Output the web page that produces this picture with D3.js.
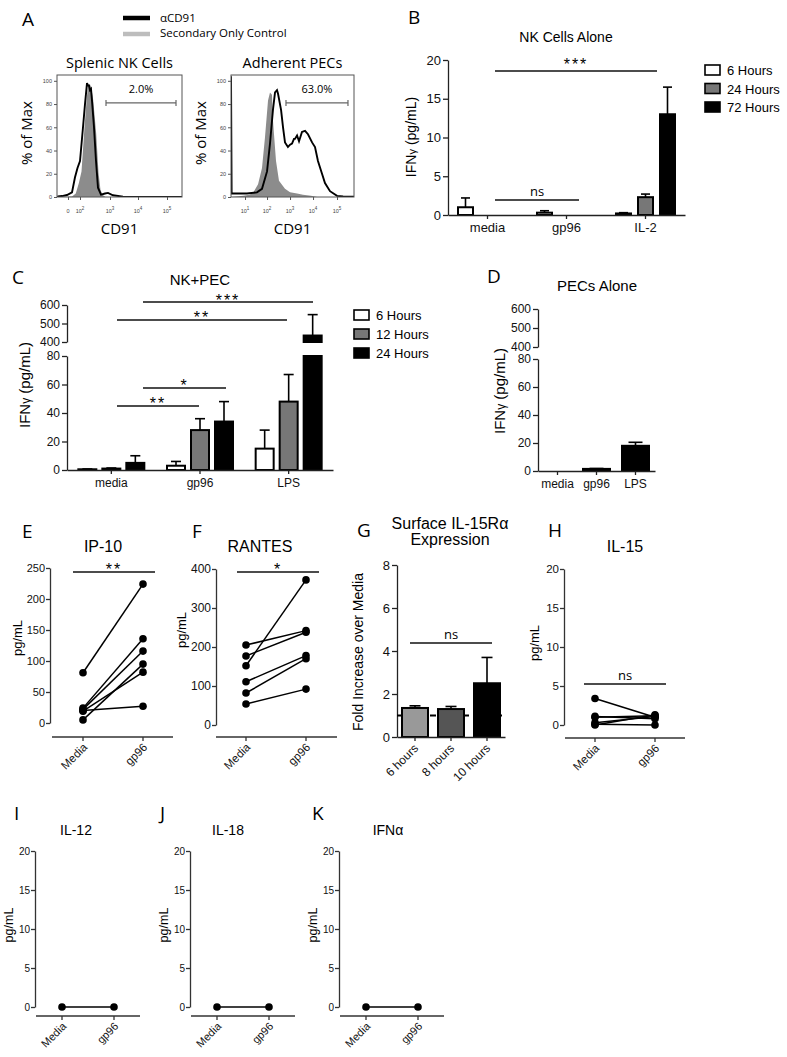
<!DOCTYPE html>
<html>
<head>
<meta charset="utf-8">
<script src="https://cdn.jsdelivr.net/npm/d3@7"></script>
<style>
  body { margin: 0; background: #fff; }
  svg { display: block; }
</style>
</head>
<body>
<div id="fig"></div>
<script>

// ---------- panel A : flow histograms, x in channel units (0-1000), y in % of max
let splenicCtrl = [[0,0],[120,0.5],[150,3],[175,12],[196,22],[220,60],[238,85],[248,95],[264,97],[276,93],[290,83],[314,54],[332,21],[348,6],[364,2],[388,0],[1000,0]];
let splenicCd91 = [[0,0],[8,0.5],[40,0.8],[80,1.7],[120,4],[144,17],[164,25],[184,31],[208,60],[224,80],[232,89],[240,98],[248,96],[256,96],[264,92],[272,93],[280,83],[296,60],[312,31],[328,8],[352,2],[384,3],[408,3.5],[448,1.5],[528,0.3],[1000,0]];
let pecCtrl = [[0,0],[100,1],[150,2],[179,3.5],[220,11],[252,25],[276,51],[301,83],[317,90],[333,88],[341,66],[366,31],[390,14],[439,7],[480,4],[537,3],[585,2],[650,1],[700,0],[1000,0]];
let pecCd91 = [[0,104],[5,3],[16,3],[130,3],[211,4],[252,7],[293,22],[317,46],[341,75],[358,90],[374,92],[382,89],[407,75],[423,60],[439,47],[463,43],[480,45],[496,46],[512,50],[520,50],[537,53],[553,48],[577,56],[602,57],[626,54],[659,47],[683,43],[707,31],[740,20],[764,12],[805,5],[862,1],[911,0.5],[1000,0.3]];
let splenicTicksX = [88, 184, 424, 648, 880];
let splenicTickLabels = [["0",""],["10","2"],["10","3"],["10","4"],["10","5"]];
let pecTicksX = [114, 293, 480, 667, 862];
let pecTickLabels = [["10","1"],["10","2"],["10","3"],["10","4"],["10","5"]];
let splenicGate = [392, 952];
let pecGate = [447, 951];
let gateLevel = 81;

// ---------- panel B : NK cells alone
let nkHours = ["6 Hours", "24 Hours", "72 Hours"];
let nkTreat = ["media", "gp96", "IL-2"];
let nkAloneMean = [[1.0, 0, 0], [0.3, 0, 0], [0.2, 2.3, 13.0]];
let nkAloneErr  = [[2.2, 0, 0], [0.55, 0, 0], [0.3, 2.7, 16.5]];

// ---------- panel C : NK + PEC
let pecHours = ["6 Hours", "12 Hours", "24 Hours"];
let pecTreat = ["media", "gp96", "LPS"];
let nkPecMean = [[0.5, 1, 5], [3, 28, 34], [15, 48, 435]];
let nkPecErr  = [[0.7, 1.4, 10], [6, 36, 48], [28, 67, 548]];

// ---------- panel D : PECs alone
let pecAloneMean = [0, 1.5, 18];
let pecAloneErr  = [0, 1.8, 20.5];

// ---------- panels E, F, H-K : paired media / gp96
let pairGroups = ["Media", "gp96"];
let ip10Media = [81, 24, 22, 5, 19, 20];
let ip10Gp96  = [224, 136, 116, 95, 82, 27];
let rantesMedia = [152, 205, 177, 111, 82, 54];
let rantesGp96  = [372, 242, 238, 178, 170, 92];
let il15Media = [3.4, 1.0, 1.1, 0.3, 0, 0.1];
let il15Gp96  = [1.0, 1.2, 0.8, 1.1, 1.3, 0];
let il12Media = [0], il12Gp96 = [0];
let il18Media = [0], il18Gp96 = [0];
let ifnaMedia = [0], ifnaGp96 = [0];

// ---------- panel G : IL-15Ra
let raHours = ["6 hours", "8 hours", "10 hours"];
let raMean = [1.35, 1.3, 2.5];
let raErr  = [1.45, 1.42, 3.7];

let SANS = '"Liberation Sans", Arial, sans-serif';
let SOFT = '"Open Sans", "Noto Sans", sans-serif';

let svg = d3.select("#fig").append("svg").attr("width", 787).attr("height", 1057);
svg.append("rect").attr("width", 787).attr("height", 1057).attr("fill", "#fff");

function txt(x, y, s, size, anchor, family, rotate) {
    let t = svg.append("text")
        .attr("x", x).attr("y", y)
        .attr("font-size", size)
        .attr("font-family", family || SANS)
        .attr("text-anchor", anchor || "start")
        .attr("fill", "#000")
        .text(s);
    if (rotate) t.attr("transform", "rotate(" + rotate + "," + x + "," + y + ")");
    return t;
}

function ifngTitle(x, y, size) {
    let t = svg.append("text")
        .attr("x", x).attr("y", y)
        .attr("font-size", size).attr("font-family", SANS)
        .attr("text-anchor", "middle")
        .attr("transform", "rotate(-90," + x + "," + y + ")");
    t.append("tspan").text("IFN");
    t.append("tspan").attr("font-size", size * 0.8).text("\u03b3");
    t.append("tspan").text(" (pg/mL)");
}

function yAxisAt(x, scale, ticks, size, color, tlen, pad) {
    let g = svg.append("g")
        .attr("transform", "translate(" + x + ",0)")
        .call(d3.axisLeft(scale).tickValues(ticks).tickSize(tlen || 5).tickSizeOuter(0).tickPadding(pad === undefined ? 2 : pad));
    g.select(".domain").attr("stroke", color || "#222").attr("stroke-width", 1.3);
    g.selectAll(".tick line").attr("stroke", color || "#222").attr("stroke-width", 1.3);
    g.selectAll(".tick text").attr("font-size", size).attr("font-family", SANS).attr("fill", "#111");
    return g;
}

function xAxisBand(y, scale, size) {
    let g = svg.append("g")
        .attr("transform", "translate(0," + y + ")")
        .call(d3.axisBottom(scale).tickSize(4).tickSizeOuter(0).tickPadding(4));
    g.select(".domain").attr("stroke", "#222").attr("stroke-width", 1.3);
    g.selectAll(".tick line").attr("stroke", "#222").attr("stroke-width", 1.3);
    g.selectAll(".tick text").attr("font-size", size).attr("font-family", SANS).attr("fill", "#111");
    return g;
}

function sigBar(x1, x2, y, label, size, dy, family) {
    svg.append("line")
        .attr("x1", x1).attr("x2", x2).attr("y1", y).attr("y2", y)
        .attr("stroke", "#111").attr("stroke-width", 1.5);
    let t = txt((x1 + x2) / 2, y + dy, label, size, "middle", family || SANS);
    if (label.indexOf("*") >= 0) t.attr("letter-spacing", 2);
    return t;
}

function errBar(cx, yTop, yErr, cap) {
    svg.append("line").attr("x1", cx).attr("x2", cx).attr("y1", yTop).attr("y2", yErr)
        .attr("stroke", "#000").attr("stroke-width", 1.6);
    svg.append("line").attr("x1", cx - cap / 2).attr("x2", cx + cap / 2).attr("y1", yErr).attr("y2", yErr)
        .attr("stroke", "#000").attr("stroke-width", 1.6);
}

function legendBoxes(x, y0, step, labels, fills) {
    labels.forEach(function(l, i) {
        svg.append("rect")
            .attr("x", x).attr("y", y0 + i * step - 5)
            .attr("width", 15).attr("height", 10)
            .attr("fill", fills[i]).attr("stroke", "#000").attr("stroke-width", 1.6);
        txt(x + 22, y0 + i * step + 5, l, 13);
    });
}

// ======================= A =======================
txt(22, 26, "A", 19, "start", SOFT);
svg.append("line").attr("x1", 123).attr("x2", 150).attr("y1", 18).attr("y2", 18)
    .attr("stroke", "#000").attr("stroke-width", 4.5);
svg.append("line").attr("x1", 123).attr("x2", 150).attr("y1", 34).attr("y2", 34)
    .attr("stroke", "#bdbdbd").attr("stroke-width", 4.5);
txt(160, 22, "\u03b1CD91", 11.5, "start", SOFT);
txt(160, 37, "Secondary Only Control", 11.5, "start", SOFT);

function histPanel(left, right, title, ctrl, anti, ticksX, tickLabels, gate, pct) {
    let top = 75, bottom = 197;
    let x = d3.scaleLinear().domain([0, 1000]).range([left, right]);
    let y = d3.scaleLinear().domain([0, 105]).range([bottom, top]);
    let id = "clip" + left;
    svg.append("clipPath").attr("id", id).append("rect")
        .attr("x", left).attr("y", top).attr("width", right - left).attr("height", bottom - top);
    let g = svg.append("g").attr("clip-path", "url(#" + id + ")");
    g.append("path").datum(ctrl)
        .attr("d", d3.area().x(d => x(d[0])).y0(bottom).y1(d => y(d[1])))
        .attr("fill", "#8c8c8c");
    g.append("path").datum(anti)
        .attr("d", d3.line().x(d => x(d[0])).y(d => y(d[1])))
        .attr("fill", "none").attr("stroke", "#000").attr("stroke-width", 1.9);
    svg.append("rect").attr("x", left).attr("y", top).attr("width", right - left).attr("height", bottom - top)
        .attr("fill", "none").attr("stroke", "#555").attr("stroke-width", 1);

    let ya = svg.append("g").attr("transform", "translate(" + left + ",0)")
        .call(d3.axisLeft(y).tickValues([0, 20, 40, 60, 80, 100]).tickSize(3).tickSizeOuter(0).tickPadding(2));
    ya.select(".domain").remove();
    ya.selectAll(".tick line").attr("stroke", "#555");
    ya.selectAll(".tick text").attr("font-size", 5.5).attr("fill", "#444").attr("font-family", SANS);

    let xa = svg.append("g").attr("transform", "translate(0," + bottom + ")")
        .call(d3.axisBottom(x).tickValues(ticksX).tickSize(3).tickSizeOuter(0).tickFormat(""));
    xa.select(".domain").remove();
    xa.selectAll(".tick line").attr("stroke", "#555");
    ticksX.forEach(function(c, i) {
        let t = svg.append("text").attr("x", x(c)).attr("y", 213)
            .attr("font-size", 5.5).attr("font-family", SANS).attr("fill", "#444")
            .attr("text-anchor", "middle");
        t.append("tspan").text(tickLabels[i][0]);
        if (tickLabels[i][1]) t.append("tspan").attr("dy", -3).attr("font-size", 4.5).text(tickLabels[i][1]);
    });

    // gate
    let gy = y(gateLevel);
    svg.append("line").attr("x1", x(gate[0])).attr("x2", x(gate[1])).attr("y1", gy).attr("y2", gy)
        .attr("stroke", "#666").attr("stroke-width", 1.2);
    gate.forEach(function(c) {
        svg.append("line").attr("x1", x(c)).attr("x2", x(c)).attr("y1", gy - 3).attr("y2", gy + 3)
            .attr("stroke", "#666").attr("stroke-width", 1.2);
    });
    txt(x((gate[0] + gate[1]) / 2), 93, pct, 11, "middle", SOFT);

    let mid = (left + right) / 2;
    txt(mid, 68, title, 14.5, "middle", SOFT);
    txt(mid, 234, "CD91", 15, "middle", SOFT);
    txt(left - 25, 133, "% of Max", 15, "middle", SOFT, -90);
}
histPanel(57, 182, "Splenic NK Cells", splenicCtrl, splenicCd91, splenicTicksX, splenicTickLabels, splenicGate, "2.0%");
histPanel(231, 354, "Adherent PECs", pecCtrl, pecCd91, pecTicksX, pecTickLabels, pecGate, "63.0%");

// ======================= B =======================
let hourFills = ["#fff", "#777", "#000"];
(function() {
    let x = d3.scaleBand().domain(nkTreat).range([448, 685]);
    let y = d3.scaleLinear().domain([0, 20]).range([215, 60]);
    let offs = [-22, 0, 22], bw = 15;

    txt(408, 24, "B", 19, "start", SOFT);
    txt(566, 42, "NK Cells Alone", 14, "middle");
    yAxisAt(448, y, [0, 5, 10, 15, 20], 13);
    ifngTitle(416, 137, 14);

    nkTreat.forEach(function(t, gi) {
        nkAloneMean[gi].forEach(function(v, si) {
            if (v <= 0) return;
            let cx = x(t) + x.bandwidth() / 2 + offs[si];
            svg.append("rect")
                .attr("x", cx - bw / 2).attr("y", y(v))
                .attr("width", bw).attr("height", y(0) - y(v))
                .attr("fill", hourFills[si]).attr("stroke", "#000").attr("stroke-width", 2);
            errBar(cx, y(v), y(nkAloneErr[gi][si]), 9);
        });
    });
    xAxisBand(215, x, 13);

    sigBar(495, 657, 71, "***", 16, -1);
    sigBar(495, 579, 200, "ns", 13, -4, SOFT);
    legendBoxes(705, 70, 18.5, nkHours, hourFills);
})();

// ======================= C / D (broken y axis) =======================
function brokenBar(cx, bw, v, err, fill, yl, yu, cap) {
    let base = yl(0);
    if (v <= 0) return;
    if (v <= 80) {
        svg.append("rect").attr("x", cx - bw / 2).attr("y", yl(v))
            .attr("width", bw).attr("height", base - yl(v))
            .attr("fill", fill).attr("stroke", "#000").attr("stroke-width", 2);
        errBar(cx, yl(v), yl(err), cap);
    } else {
        svg.append("rect").attr("x", cx - bw / 2).attr("y", yl(80))
            .attr("width", bw).attr("height", base - yl(80))
            .attr("fill", fill).attr("stroke", "#000").attr("stroke-width", 2);
        svg.append("rect").attr("x", cx - bw / 2).attr("y", yu(v))
            .attr("width", bw).attr("height", yu(400) - yu(v))
            .attr("fill", fill).attr("stroke", "#000").attr("stroke-width", 2);
        errBar(cx, yu(v), yu(err), cap);
    }
}

(function() {
    let x = d3.scaleBand().domain(pecTreat).range([67, 333]);
    let yl = d3.scaleLinear().domain([0, 80]).range([470, 356]);
    let yu = d3.scaleLinear().domain([400, 600]).range([342, 305]);
    let offs = [-24, 0, 24], bw = 18;

    txt(12, 284, "C", 19, "start", SOFT);
    txt(200, 285, "NK+PEC", 15, "middle");
    yAxisAt(67, yl, [0, 20, 40, 60, 80], 12);
    yAxisAt(67, yu, [400, 500, 600], 12);
    ifngTitle(30, 385, 15);

    pecTreat.forEach(function(t, gi) {
        nkPecMean[gi].forEach(function(v, si) {
            let cx = x(t) + x.bandwidth() / 2 + offs[si];
            brokenBar(cx, bw, v, nkPecErr[gi][si], hourFills[si], yl, yu, 10);
        });
    });
    xAxisBand(470, x, 12);

    sigBar(143, 313, 302, "***", 16, 4);
    sigBar(117, 287, 320, "**", 16, 3);
    sigBar(143, 226, 388, "*", 16, 3);
    sigBar(117, 199, 406, "**", 16, 3);
    legendBoxes(354, 315, 19, pecHours, hourFills);
})();

(function() {
    let x = d3.scaleBand().domain(pecTreat).range([538, 655]);
    let yl = d3.scaleLinear().domain([0, 80]).range([471, 359]);
    let yu = d3.scaleLinear().domain([400, 600]).range([347, 309]);
    let bw = 27;

    txt(487, 283, "D", 19, "start", SOFT);
    txt(597, 291, "PECs Alone", 15, "middle");
    yAxisAt(538, yl, [0, 20, 40, 60, 80], 12);
    yAxisAt(538, yu, [400, 500, 600], 12);
    ifngTitle(505, 391, 15);

    pecTreat.forEach(function(t, gi) {
        let cx = x(t) + x.bandwidth() / 2;
        brokenBar(cx, bw, pecAloneMean[gi], pecAloneErr[gi], "#000", yl, yu, 14);
    });
    xAxisBand(471, x, 12);
})();

// ======================= paired panels =======================
function rotLabel(x, y, s, size) {
    svg.append("text")
        .attr("transform", "translate(" + x + "," + y + ") rotate(-45)")
        .attr("text-anchor", "end")
        .attr("font-size", size).attr("font-family", SANS).attr("fill", "#111")
        .text(s);
}

function pairedPanel(p) {
    let y = d3.scaleLinear().domain([0, p.max]).range([p.yBot, p.yTop]);
    let x = d3.scalePoint().domain(pairGroups).range(p.pos);
    yAxisAt(p.axisX, y, p.ticks, p.tickSize, "#333", 4, 1);

    svg.append("line").attr("x1", p.xStart).attr("x2", p.xEnd)
        .attr("y1", p.xAxisY).attr("y2", p.xAxisY)
        .attr("stroke", "#333").attr("stroke-width", 1.3);
    pairGroups.forEach(function(gname) {
        svg.append("line").attr("x1", x(gname)).attr("x2", x(gname))
            .attr("y1", p.xAxisY).attr("y2", p.xAxisY + 4)
            .attr("stroke", "#333").attr("stroke-width", 1.3);
        rotLabel(x(gname) + 5, p.xAxisY + 11, gname, p.labelSize);
    });

    let pairs = d3.zip(p.media, p.gp96);
    svg.append("g").selectAll("line").data(pairs).join("line")
        .attr("x1", x("Media")).attr("x2", x("gp96"))
        .attr("y1", d => y(d[0])).attr("y2", d => y(d[1]))
        .attr("stroke", "#000").attr("stroke-width", 1.5);
    let pts = [];
    pairs.forEach(function(d) {
        pts.push([x("Media"), y(d[0])]);
        pts.push([x("gp96"), y(d[1])]);
    });
    svg.append("g").selectAll("circle").data(pts).join("circle")
        .attr("cx", d => d[0]).attr("cy", d => d[1]).attr("r", 3.8)
        .attr("fill", "#000");

    txt(p.titleX, p.titleY, p.title, p.titleSize, "middle");
    txt(p.yTitleX, p.yTitleY, "pg/mL", p.yTitleSize || 13, "middle", SANS, -90);
    txt(p.letterX, p.letterY, p.letter, 19, "start", SOFT);
}

pairedPanel({ letter: "E", letterX: 22, letterY: 538, title: "IP-10", titleX: 103, titleY: 552, titleSize: 16,
    max: 250, ticks: [0, 50, 100, 150, 200, 250], yTop: 568, yBot: 723, axisX: 50, tickSize: 11,
    xStart: 52, xEnd: 173, xAxisY: 737, pos: [83, 143], labelSize: 11.5,
    media: ip10Media, gp96: ip10Gp96, yTitleX: 22, yTitleY: 638 });
sigBar(73, 155, 572, "**", 16, 3);

pairedPanel({ letter: "F", letterX: 192, letterY: 538, title: "RANTES", titleX: 260, titleY: 552, titleSize: 16,
    max: 400, ticks: [0, 100, 200, 300, 400], yTop: 569, yBot: 725, axisX: 216, tickSize: 12,
    xStart: 216, xEnd: 337, xAxisY: 737, pos: [246, 306], labelSize: 11.5,
    media: rantesMedia, gp96: rantesGp96, yTitleX: 186, yTitleY: 630 });
sigBar(237, 319, 572, "*", 16, 3);

pairedPanel({ letter: "H", letterX: 548, letterY: 537, title: "IL-15", titleX: 625, titleY: 552, titleSize: 16,
    max: 20, ticks: [0, 5, 10, 15, 20], yTop: 569, yBot: 725, axisX: 564, tickSize: 11.5,
    xStart: 565, xEnd: 685, xAxisY: 738, pos: [595, 655], labelSize: 11.5,
    media: il15Media, gp96: il15Gp96, yTitleX: 539, yTitleY: 643 });
sigBar(584, 666, 684, "ns", 13, -4, SOFT);

let ilPanels = [
    { letter: "I", title: "IL-12", media: il12Media, gp96: il12Gp96, ax: 35, lx: 14, titleX: 76 },
    { letter: "J", title: "IL-18", media: il18Media, gp96: il18Gp96, ax: 190, lx: 160, titleX: 228 },
    { letter: "K", title: "IFN\u03b1", media: ifnaMedia, gp96: ifnaGp96, ax: 339, lx: 312, titleX: 388 }
];
ilPanels.forEach(function(q) {
    pairedPanel({ letter: q.letter, letterX: q.lx, letterY: 820, title: q.title, titleX: q.titleX, titleY: 835, titleSize: 14,
        max: 20, ticks: [0, 5, 10, 15, 20], yTop: 851, yBot: 1007, axisX: q.ax, tickSize: 10,
        xStart: q.ax + 1, xEnd: q.ax + 105, xAxisY: 1016, pos: [q.ax + 27, q.ax + 79], labelSize: 11,
        media: q.media, gp96: q.gp96, yTitleX: q.ax - 22, yTitleY: 925, yTitleSize: 12.5 });
});

// ======================= G =======================
(function() {
    let x = d3.scaleBand().domain(raHours).range([397, 505]);
    let y = d3.scaleLinear().domain([0, 8]).range([737, 565]);
    let fills = ["#999", "#555", "#000"], bw = 26;

    txt(357, 537, "G", 19, "start", SOFT);
    txt(450, 529, "Surface IL-15R\u03b1", 16, "middle");
    txt(450, 545, "Expression", 16, "middle");
    yAxisAt(397, y, [0, 2, 4, 6, 8], 13);
    txt(363, 652, "Fold Increase over Media", 14, "middle", SANS, -90);

    svg.append("line").attr("x1", 397).attr("x2", 505).attr("y1", y(1)).attr("y2", y(1))
        .attr("stroke", "#000").attr("stroke-width", 1.8).attr("stroke-dasharray", "6,5");

    raHours.forEach(function(h, i) {
        let cx = x(h) + x.bandwidth() / 2;
        svg.append("rect").attr("x", cx - bw / 2).attr("y", y(raMean[i]))
            .attr("width", bw).attr("height", y(0) - y(raMean[i]))
            .attr("fill", fills[i]).attr("stroke", "#000").attr("stroke-width", 2);
        errBar(cx, y(raMean[i]), y(raErr[i]), 11);
    });
    let xa = xAxisBand(737, x, 12);
    xa.selectAll(".tick text").remove();
    raHours.forEach(function(h) {
        rotLabel(x(h) + x.bandwidth() / 2 + 4, 749, h, 12);
    });
    sigBar(410, 492, 643, "ns", 13, -4, SOFT);
})();

</script>
</body>
</html>
